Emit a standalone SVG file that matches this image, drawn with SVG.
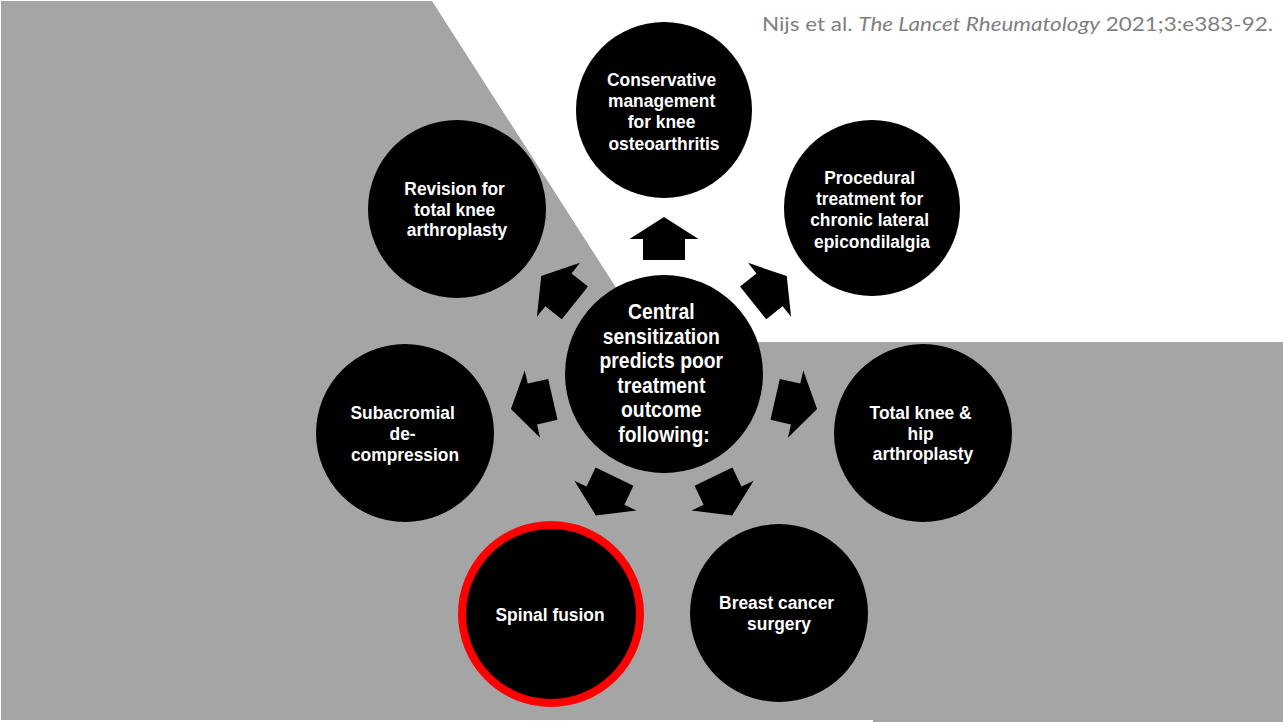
<svg xmlns="http://www.w3.org/2000/svg" width="1283" height="722" viewBox="0 0 1283 722">
  <style>
    .node { fill: #000000; }
    .highlight { stroke: #ff0000; stroke-width: 8; }
    .label { fill: #ffffff; font-family: "Liberation Sans", Arial, sans-serif; font-weight: bold; font-size: 19px; text-anchor: middle; }
    .hub-label { font-size: 22.5px; }
    .arrow { fill: #000000; }
    .cite { fill: #7f7f7f; font-family: Lato, "Open Sans", "Liberation Sans", sans-serif; font-size: 19.5px; }
  </style>
  <defs>
    <!-- block arrow pointing up, origin at the hub centre -->
    <path id="blockArrow" d="M0,-157 L34.5,-135 L21,-135 L21,-114 L-21,-114 L-21,-135 L-34.5,-135 Z"/>
  </defs>

  <!-- backdrop -->
  <rect x="0" y="0" width="1283" height="722" fill="#ffffff"/>
  <polygon points="1,1 432,1 651,342 1283,342 1283,722 873,722 873,720 1,720" fill="#a5a5a5"/>

  <!-- reference line -->
  <text class="cite" x="762" y="31" textLength="511" lengthAdjust="spacingAndGlyphs">Nijs et al. <tspan font-style="italic">The Lancet Rheumatology</tspan> 2021;3:e383-92.</text>

  <!-- connectors: arrows radiating from the hub -->
  <g id="connectors" class="arrow">
    <use href="#blockArrow" transform="translate(664 374) rotate(0)"/>
    <use href="#blockArrow" transform="translate(664 374) rotate(51.43)"/>
    <use href="#blockArrow" transform="translate(664 374) rotate(102.86)"/>
    <use href="#blockArrow" transform="translate(664 374) rotate(154.29)"/>
    <use href="#blockArrow" transform="translate(664 374) rotate(-154.29)"/>
    <use href="#blockArrow" transform="translate(664 374) rotate(-102.86)"/>
    <use href="#blockArrow" transform="translate(664 374) rotate(-51.43)"/>
  </g>

  <g id="hub">
    <circle class="node" cx="664" cy="374" r="99"/>
    <text class="label hub-label" transform="translate(664 0) scale(0.86 1)">
      <tspan x="0" y="319">Central</tspan>
      <tspan x="0" y="343.6">sensitization</tspan>
      <tspan x="0" y="368.2">predicts poor</tspan>
      <tspan x="0" y="392.8">treatment</tspan>
      <tspan x="0" y="417.4">outcome</tspan>
      <tspan x="0" y="442">following:</tspan>
    </text>
  </g>

  <g id="conservative">
    <circle class="node" cx="664" cy="110" r="88"/>
    <text class="label" transform="translate(664 110) scale(0.915 1)">
      <tspan x="0" y="-24.5">Conservative</tspan>
      <tspan x="0" y="-3">management</tspan>
      <tspan x="0" y="18.5">for knee</tspan>
      <tspan x="0" y="40">osteoarthritis</tspan>
    </text>
  </g>

  <g id="procedural">
    <circle class="node" cx="872" cy="208" r="88"/>
    <text class="label" transform="translate(872 208) scale(0.915 1)">
      <tspan x="0" y="-24.5">Procedural</tspan>
      <tspan x="0" y="-3">treatment for</tspan>
      <tspan x="0" y="18.5">chronic lateral</tspan>
      <tspan x="0" y="40">epicondilalgia</tspan>
    </text>
  </g>

  <g id="total-knee-hip">
    <circle class="node" cx="923" cy="433" r="89"/>
    <text class="label" transform="translate(923 433) scale(0.915 1)">
      <tspan x="0" y="-14.5">Total knee &amp;</tspan>
      <tspan x="0" y="6.5">hip</tspan>
      <tspan x="0" y="27">arthroplasty</tspan>
    </text>
  </g>

  <g id="breast-cancer">
    <circle class="node" cx="779" cy="613" r="89"/>
    <text class="label" transform="translate(779 613) scale(0.915 1)">
      <tspan x="0" y="-4">Breast cancer</tspan>
      <tspan x="0" y="17.5">surgery</tspan>
    </text>
  </g>

  <g id="spinal-fusion">
    <circle class="node highlight" cx="551" cy="614" r="89"/>
    <text class="label" transform="translate(550 614) scale(0.915 1)">
      <tspan x="0" y="6.5">Spinal fusion</tspan>
    </text>
  </g>

  <g id="subacromial">
    <circle class="node" cx="405" cy="433" r="89"/>
    <text class="label" transform="translate(405 433) scale(0.915 1)">
      <tspan x="0" y="-14.5">Subacromial</tspan>
      <tspan x="0" y="6.5">de-</tspan>
      <tspan x="0" y="28">compression</tspan>
    </text>
  </g>

  <g id="revision">
    <circle class="node" cx="457" cy="209" r="89"/>
    <text class="label" transform="translate(457 209) scale(0.915 1)">
      <tspan x="0" y="-14">Revision for</tspan>
      <tspan x="0" y="6.5">total knee</tspan>
      <tspan x="0" y="27">arthroplasty</tspan>
    </text>
  </g>
</svg>
